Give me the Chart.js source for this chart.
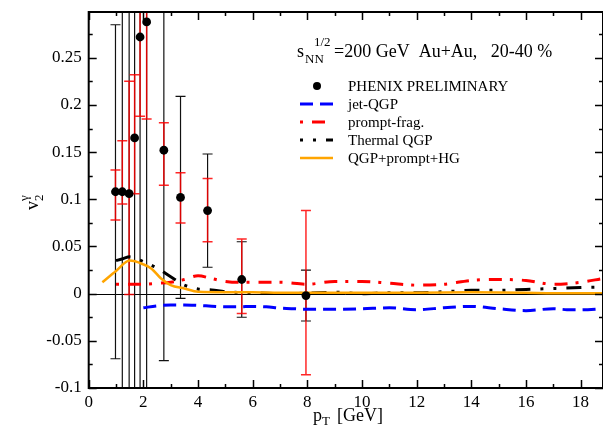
<!DOCTYPE html>
<html>
<head>
<meta charset="utf-8">
<script src="https://cdn.jsdelivr.net/npm/chart.js@4/dist/chart.umd.min.js"></script>
<style>
  html, body { margin: 0; padding: 0; background: #fff; }
</style>
</head>
<body>
<canvas id="chart" width="603" height="429"></canvas>
<script>
// PHENIX preliminary points
const phenixPt = [0.98, 1.23, 1.48, 1.68, 1.88, 2.12, 2.75, 3.36, 4.35, 5.6, 7.95];
const phenixV2 = [0.108, 0.108, 0.106, 0.165, 0.272, 0.288, 0.152, 0.102, 0.088, 0.015, -0.002];
const statErr  = [0.177, 0.5, 0.5, 0.5, 0.5, 0.5, 0.223, 0.107, 0.06, 0.04, 0.027];
const sysLow   = [0.078, 0.095, -0.001, 0.106, 0.188, 0.185, 0.115, 0.075, 0.055, -0.021, -0.086];
const sysHigh  = [0.131, 0.162, 0.225, 0.232, 0.356, 0.39, 0.181, 0.128, 0.122, 0.058, 0.088];

// model curves
const jetPt = [2.0, 2.5, 3.0, 3.5, 4.0, 4.5, 5.0, 5.5, 6.0, 6.5, 7.0, 7.5, 8.0, 9.0, 10.0, 11.0, 12.0, 13.0, 14.0, 15.0, 16.0, 17.0, 17.5, 18.0, 18.8];
const jetV2 = [-0.015, -0.013, -0.012, -0.012, -0.0125, -0.0133, -0.014, -0.014, -0.0135, -0.014, -0.0153, -0.016, -0.0165, -0.0165, -0.016, -0.015, -0.017, -0.015, -0.0135, -0.016, -0.018, -0.016, -0.017, -0.0172, -0.016];

const promptPt = [1.0, 1.5, 2.0, 2.5, 3.0, 3.5, 4.0, 4.5, 5.0, 5.5, 6.0, 7.0, 8.0, 9.0, 10.0, 11.0, 12.0, 13.0, 14.0, 15.0, 16.0, 17.0, 18.0, 18.8];
const promptV2 = [0.010, 0.010, 0.010, 0.011, 0.012, 0.015, 0.019, 0.016, 0.013, 0.012, 0.012, 0.012, 0.010, 0.013, 0.013, 0.011, 0.009, 0.010, 0.014, 0.015, 0.014, 0.010, 0.012, 0.016];

const thermalPt = [1.0, 1.25, 1.5, 1.75, 2.0, 2.5, 3.0, 3.5, 4.0, 4.5, 5.0, 6.0, 7.0, 8.0, 9.0, 10.0, 11.0, 12.0, 13.0, 14.0, 15.0, 16.0, 17.0, 18.0, 18.8];
const thermalV2 = [0.035, 0.037, 0.039, 0.037, 0.034, 0.027, 0.018, 0.009, 0.005, 0.004, 0.002, 0.001, 0.000, 0.0005, 0.0015, 0.0, 0.001, 0.001, 0.002, 0.0035, 0.0035, 0.0045, 0.0055, 0.0065, 0.007];

const sumPt = [0.5, 1.0, 1.5, 2.0, 2.3, 2.65, 3.0, 3.5, 4.0, 5.0, 6.0, 7.0, 8.0, 10.0, 12.0, 14.0, 16.0, 17.0, 18.0, 18.8];
const sumV2 = [0.012, 0.024, 0.035, 0.031, 0.0265, 0.016, 0.009, 0.0055, 0.002, 0.0015, 0.0015, 0.001, 0.001, 0.001, 0.001, 0.0015, 0.001, 0.0005, 0.0005, 0.0005];

const xTicks = [0, 2, 4, 6, 8, 10, 12, 14, 16, 18];
const yTicks = [-0.1, -0.05, 0, 0.05, 0.1, 0.15, 0.2, 0.25];

const serif = '"Liberation Serif", "Times New Roman", serif';

const pairs = (xs, ys) => xs.map((x, i) => ({ x, y: ys[i] }));

const curve = (label, xs, ys, color, dash, width) => ({
  label,
  data: pairs(xs, ys),
  showLine: true,
  borderColor: color,
  borderWidth: width,
  borderDash: dash,
  pointRadius: 0,
  cubicInterpolationMode: 'monotone',
  fill: false
});

const datasets = [
  {
    label: 'PHENIX PRELIMINARY',
    data: pairs(phenixPt, phenixV2),
    showLine: false,
    pointRadius: 4.4,
    pointBackgroundColor: '#000',
    pointBorderWidth: 0
  },
  curve('QGP+prompt+HG', sumPt, sumV2, '#ffa500', [], 2.5),
  curve('Thermal QGP', thermalPt, thermalV2, '#000', [15, 10, 3, 10, 3, 10], 3),
  curve('prompt-frag.', promptPt, promptV2, '#ff0000', [3, 9, 13, 8], 3),
  curve('jet-QGP', jetPt, jetV2, '#0000ff', [13, 7], 3)
];

// error bars and zero line under the data
const bars = {
  id: 'bars',
  beforeDatasetsDraw(chart) {
    const { ctx, chartArea: a, scales: { x, y } } = chart;
    ctx.save();
    ctx.beginPath();
    ctx.rect(a.left, a.top, a.right - a.left, a.bottom - a.top);
    ctx.clip();

    ctx.strokeStyle = '#000';
    ctx.lineWidth = 1;
    const y0 = Math.round(y.getPixelForValue(0)) + 0.5;
    ctx.beginPath();
    ctx.moveTo(a.left, y0);
    ctx.lineTo(a.right, y0);
    ctx.stroke();

    const cap = 5;
    const drawBar = (px, lo, hi) => {
      const yl = y.getPixelForValue(lo);
      const yh = y.getPixelForValue(hi);
      ctx.beginPath();
      ctx.moveTo(px, yl); ctx.lineTo(px, yh);
      ctx.moveTo(px - cap, yl); ctx.lineTo(px + cap, yl);
      ctx.moveTo(px - cap, yh); ctx.lineTo(px + cap, yh);
      ctx.stroke();
    };

    ctx.strokeStyle = '#111';
    ctx.lineWidth = 1.2;
    phenixPt.forEach((pt, i) => {
      const px = x.getPixelForValue(pt);
      drawBar(px, phenixV2[i] - statErr[i], phenixV2[i] + statErr[i]);
    });

    ctx.strokeStyle = 'rgba(255,0,0,0.85)';
    ctx.lineWidth = 1.5;
    phenixPt.forEach((pt, i) => {
      const px = x.getPixelForValue(pt);
      drawBar(px, sysLow[i], sysHigh[i]);
    });
    ctx.restore();
  }
};

// frame, inward ticks, titles and legend
const decor = {
  id: 'decor',
  afterDraw(chart) {
    const { ctx, chartArea: a, scales: { x, y } } = chart;
    ctx.save();
    ctx.strokeStyle = '#000';
    ctx.lineWidth = 1.5;

    const major = 8, minor = 4;
    ctx.beginPath();
    for (let v = 0; v <= 19; v += 1) {
      const px = Math.round(x.getPixelForValue(v)) + 0.5;
      if (px > a.right) break;
      const len = v % 2 === 0 ? major : minor;
      ctx.moveTo(px, a.bottom); ctx.lineTo(px, a.bottom - len);
      ctx.moveTo(px, a.top); ctx.lineTo(px, a.top + len);
    }
    for (let k = 0; k <= 16; k++) {
      const v = -0.1 + k * 0.025;
      const py = Math.round(y.getPixelForValue(v)) + 0.5;
      if (py < a.top) break;
      const len = k % 2 === 0 ? major : minor;
      ctx.moveTo(a.left, py); ctx.lineTo(a.left + len, py);
      ctx.moveTo(a.right, py); ctx.lineTo(a.right - len, py);
    }
    ctx.stroke();

    ctx.lineWidth = 2;
    ctx.strokeRect(a.left, a.top, a.right - a.left, a.bottom - a.top);

    ctx.fillStyle = '#000';
    ctx.textBaseline = 'alphabetic';
    ctx.textAlign = 'left';

    // title
    ctx.font = '18px ' + serif;
    ctx.fillText('s', 297, 57);
    ctx.font = '13px ' + serif;
    ctx.fillText('NN', 305, 63);
    ctx.fillText('1/2', 314, 46);
    ctx.font = '18px ' + serif;
    ctx.fillText('=200 GeV  Au+Au,   20-40 %', 334, 57);

    // x axis title
    ctx.font = '18px ' + serif;
    ctx.fillText('p', 313, 421);
    ctx.font = '13px ' + serif;
    ctx.fillText('T', 322, 425);
    ctx.font = '18px ' + serif;
    ctx.fillText('[GeV]', 337, 421);

    // y axis title
    ctx.save();
    ctx.translate(38, 210);
    ctx.rotate(-Math.PI / 2);
    ctx.font = '18px ' + serif;
    ctx.fillText('v', 0, 0);
    ctx.font = '13px ' + serif;
    ctx.fillText('2', 9, 5);
    ctx.fillText('\u03b3', 9, -10);
    ctx.restore();

    // legend
    const rows = [86, 104, 122, 140, 158];
    const x0 = 300, x1 = 333, tx = 348;
    ctx.font = '15px ' + serif;
    ctx.textBaseline = 'middle';
    const legendItems = [
      { ds: datasets[0], point: true },
      { ds: datasets[4], offset: 0 },
      { ds: datasets[3], offset: 0 },
      { ds: datasets[2], offset: 25 },
      { ds: datasets[1], offset: 0 }
    ];
    legendItems.forEach((item, i) => {
      const yy = rows[i];
      if (item.point) {
        ctx.beginPath();
        ctx.arc(317, yy, 4, 0, Math.PI * 2);
        ctx.fill();
      } else {
        ctx.strokeStyle = item.ds.borderColor;
        ctx.lineWidth = item.ds.borderWidth;
        ctx.setLineDash(item.ds.borderDash);
        ctx.lineDashOffset = item.offset;
        ctx.beginPath();
        ctx.moveTo(x0, yy);
        ctx.lineTo(x1, yy);
        ctx.stroke();
        ctx.setLineDash([]);
      }
      ctx.fillStyle = '#000';
      ctx.fillText(item.ds.label, tx, yy + 1);
    });
    ctx.restore();
  }
};

const noPad = s => {
  s.paddingLeft = 0;
  s.paddingRight = 0;
  s.paddingTop = 0;
  s.paddingBottom = 0;
};

new Chart(document.getElementById('chart'), {
  type: 'scatter',
  data: { datasets },
  options: {
    responsive: false,
    animation: false,
    devicePixelRatio: 1,
    layout: { autoPadding: false, padding: { top: 12, right: -1.5, left: 0, bottom: 0 } },
    plugins: { legend: { display: false }, tooltip: { enabled: false } },
    scales: {
      x: {
        type: 'linear',
        min: 0,
        max: 18.82,
        grid: { display: false, drawTicks: false },
        border: { display: false },
        afterBuildTicks: s => { s.ticks = xTicks.map(v => ({ value: v })); },
        afterFit: s => { s.height = 41; noPad(s); },
        ticks: {
          color: '#000',
          font: { family: serif, size: 17 },
          padding: 4,
          maxRotation: 0,
          autoSkip: false
        }
      },
      y: {
        type: 'linear',
        min: -0.1,
        max: 0.2985,
        grid: { display: false, drawTicks: false },
        border: { display: false },
        afterBuildTicks: s => { s.ticks = yTicks.map(v => ({ value: v })); },
        afterFit: s => { s.width = 88.7; noPad(s); },
        ticks: {
          color: '#000',
          font: { family: serif, size: 17 },
          padding: 7,
          callback: v => String(+v.toFixed(2))
        }
      }
    }
  },
  plugins: [bars, decor]
});
</script>
</body>
</html>
